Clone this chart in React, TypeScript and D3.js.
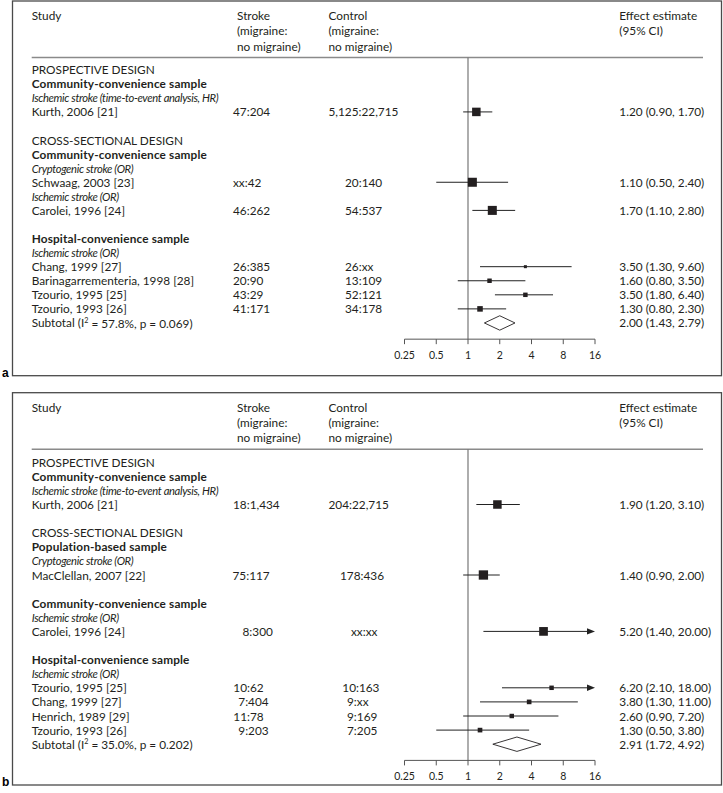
import React from "react";
import * as d3 from "d3";

// ---------- DATA ----------
// Panel a
const aLabels: [string, string][] = [
  ["design", "PROSPECTIVE DESIGN"],
  ["sample", "Community-convenience sample"],
  ["outcome", "Ischemic stroke (time-to-event analysis, HR)"],
  ["study", "Kurth, 2006 [21]"],
  ["blank", ""],
  ["design", "CROSS-SECTIONAL DESIGN"],
  ["sample", "Community-convenience sample"],
  ["outcome", "Cryptogenic stroke (OR)"],
  ["study", "Schwaag, 2003 [23]"],
  ["outcome", "Ischemic stroke (OR)"],
  ["study", "Carolei, 1996 [24]"],
  ["blank", ""],
  ["sample", "Hospital-convenience sample"],
  ["outcome", "Ischemic stroke (OR)"],
  ["study", "Chang, 1999 [27]"],
  ["study", "Barinagarrementeria, 1998 [28]"],
  ["study", "Tzourio, 1995 [25]"],
  ["study", "Tzourio, 1993 [26]"],
  ["subtotal", "Subtotal"],
];
const aStroke = ["47:204", "xx:42", "46:262", "26:385", "20:90", "43:29", "41:171"];
const aControl = ["5,125:22,715", "20:140", "54:537", "26:xx", "13:109", "52:121", "34:178"];
const aEst = [1.2, 1.1, 1.7, 3.5, 1.6, 3.5, 1.3];
const aLo = [0.9, 0.5, 1.1, 1.3, 0.8, 1.8, 0.8];
const aHi = [1.7, 2.4, 2.8, 9.6, 3.5, 6.4, 2.3];
const aWeight = [40, 45, 45, 5, 11, 11, 17];
const aSubtotal = { i2: "57.8%", p: "0.069", est: 2.0, lo: 1.43, hi: 2.79 };

// Panel b
const bLabels: [string, string][] = [
  ["design", "PROSPECTIVE DESIGN"],
  ["sample", "Community-convenience sample"],
  ["outcome", "Ischemic stroke (time-to-event analysis, HR)"],
  ["study", "Kurth, 2006 [21]"],
  ["blank", ""],
  ["design", "CROSS-SECTIONAL DESIGN"],
  ["sample", "Population-based sample"],
  ["outcome", "Cryptogenic stroke (OR)"],
  ["study", "MacClellan, 2007 [22]"],
  ["blank", ""],
  ["sample", "Community-convenience sample"],
  ["outcome", "Ischemic stroke (OR)"],
  ["study", "Carolei, 1996 [24]"],
  ["blank", ""],
  ["sample", "Hospital-convenience sample"],
  ["outcome", "Ischemic stroke (OR)"],
  ["study", "Tzourio, 1995 [25]"],
  ["study", "Chang, 1999 [27]"],
  ["study", "Henrich, 1989 [29]"],
  ["study", "Tzourio, 1993 [26]"],
  ["subtotal", "Subtotal"],
];
const bStroke = ["18:1,434", "75:117", "8:300", "10:62", "7:404", "11:78", "9:203"];
const bControl = ["204:22,715", "178:436", "xx:xx", "10:163", "9:xx", "9:169", "7:205"];
const bEst = [1.9, 1.4, 5.2, 6.2, 3.8, 2.6, 1.3];
const bLo = [1.2, 0.9, 1.4, 2.1, 1.3, 0.9, 0.5];
const bHi = [3.1, 2.0, 20.0, 18.0, 11.0, 7.2, 3.8];
const bWeight = [40, 48, 42, 11, 12, 11, 12];
const bSubtotal = { i2: "35.0%", p: "0.202", est: 2.91, lo: 1.72, hi: 4.92 };

const ticks = [0.25, 0.5, 1, 2, 4, 8, 16];
const headerStudy = ["Study"];
const headerStroke = ["Stroke", "(migraine:", "no migraine)"];
const headerControl = ["Control", "(migraine:", "no migraine)"];
const headerEffect = ["Effect estimate", "(95% CI)"];

// ---------- LAYOUT ----------
const W = 723;
const H = 793;
const FONT = "Lato, 'Open Sans', sans-serif";
const FS = 11.8;
const TXT = "#231f20";
const boxLeft = 12.5;
const boxRight = 721.5;
const colStudy = 31.7;
const colStrokeHead = 237;
const colControlHead = 328.5;
const colEffect = 619.3;
const sepRight = 703;

const aStrokeX = [233, 233, 233, 233, 233, 233, 233];
const aControlX = [328.5, 345, 345, 345, 345, 345, 345];
const bStrokeX = [233, 232.5, 242.5, 233.3, 238.3, 233.3, 238.3];
const bControlX = [328.5, 340, 351, 342.3, 347, 347, 347];

const x = d3.scaleLog().base(2).domain([0.25, 16]).range([404.5, 595]);
const sizeScale = d3.scaleSqrt().domain([0, 50]).range([0, 9.5]);

const fmt = (v: number) => v.toFixed(2);

type PanelProps = {
  top: number;
  bottom: number;
  letter: string;
  labels: [string, string][];
  stroke: string[];
  control: string[];
  est: number[];
  lo: number[];
  hi: number[];
  weight: number[];
  subtotal: { i2: string; p: string; est: number; lo: number; hi: number };
  strokeX: number[];
  controlX: number[];
  y0off: number;
  pitch: number;
};

function Panel(props: PanelProps) {
  const { top, bottom, letter, labels, stroke, control, est, lo, hi, weight, subtotal, strokeX, controlX, y0off, pitch } = props;
  const y0 = top + y0off;
  const rowY = (i: number) => y0 + i * pitch;
  const headY = [top + 14.5, top + 29.8, top + 45];
  const sepY = top + 56.5;
  const subIdx = labels.findIndex((l) => l[0] === "subtotal");
  const subY = rowY(subIdx);
  const axisY = subY + 16.2;
  const studyRows = labels.map((l, i) => (l[0] === "study" ? i : -1)).filter((i) => i >= 0);
  const xMax = x.domain()[1];
  const els: React.ReactNode[] = [];

  const headText = (arr: string[], xx: number, key: string) =>
    arr.map((t, i) => (
      <text key={key + i} x={xx} y={headY[i]} dominantBaseline="central">
        {t}
      </text>
    ));

  labels.forEach((l, i) => {
    const [type, t] = l;
    if (type === "blank") return;
    if (type === "subtotal") {
      els.push(
        <text key={"lab" + i} x={colStudy} y={rowY(i)} dominantBaseline="central">
          {"Subtotal (I"}
          <tspan fontSize={7.2} dy={-2.8}>2</tspan>
          <tspan dy={2.8}>{" = " + subtotal.i2 + ", p = " + subtotal.p + ")"}</tspan>
        </text>
      );
      return;
    }
    const isSample = type === "sample";
    const isOutcome = type === "outcome";
    els.push(
      <text
        key={"lab" + i}
        x={colStudy}
        y={rowY(i)}
        dominantBaseline="central"
        fontWeight={isSample ? 700 : 400}
        fontStyle={isOutcome ? "italic" : "normal"}
        fontSize={isOutcome ? 11.2 : FS}
        letterSpacing={isOutcome ? -0.35 : isSample ? 0.15 : 0}
      >
        {t}
      </text>
    );
  });

  studyRows.forEach((r, k) => {
    const y = rowY(r);
    els.push(
      <text key={"s" + k} x={strokeX[k]} y={y} dominantBaseline="central">{stroke[k]}</text>,
      <text key={"c" + k} x={controlX[k]} y={y} dominantBaseline="central">{control[k]}</text>,
      <text key={"e" + k} x={colEffect} y={y} dominantBaseline="central">
        {`${fmt(est[k])} (${fmt(lo[k])}, ${fmt(hi[k])})`}
      </text>
    );
    const over = hi[k] > xMax;
    const x1 = x(lo[k]);
    const x2 = over ? x(xMax) - 6 : x(hi[k]);
    els.push(<line key={"ci" + k} x1={x1} x2={x2} y1={y} y2={y} stroke="#222" strokeWidth={1} />);
    if (over) {
      const tip = x(xMax);
      els.push(
        <path key={"ar" + k} d={`M${tip},${y} L${tip - 8},${y - 3.2} L${tip - 8},${y + 3.2} Z`} fill="#222" />
      );
    }
    const s = sizeScale(weight[k]);
    els.push(<rect key={"sq" + k} x={x(est[k]) - s / 2} y={y - s / 2} width={s} height={s} fill="#231f20" />);
  });

  const dh = 7.2;
  els.push(
    <path
      key="diamond"
      d={`M${x(subtotal.lo)},${subY} L${x(subtotal.est)},${subY - dh} L${x(subtotal.hi)},${subY} L${x(subtotal.est)},${subY + dh} Z`}
      fill="#fff"
      stroke="#231f20"
      strokeWidth={0.9}
    />,
    <text key="subE" x={colEffect} y={subY} dominantBaseline="central">
      {`${fmt(subtotal.est)} (${fmt(subtotal.lo)}, ${fmt(subtotal.hi)})`}
    </text>
  );

  return (
    <g>
      <rect x={boxLeft} y={top} width={boxRight - boxLeft} height={bottom - top} fill="none" stroke="#4a4a4a" strokeWidth={1.3} />
      <text x={2} y={bottom + 1} fontWeight={700} fontSize={12} fontFamily="Arial, 'Liberation Sans', sans-serif">{letter}</text>
      <g fontFamily={FONT} fontSize={FS} fill={TXT}>
        {headText(headerStudy, colStudy, "hs")}
        {headText(headerStroke, colStrokeHead, "hst")}
        {headText(headerControl, colControlHead, "hc")}
        {headText(headerEffect, colEffect, "he")}
        <line x1={colStudy} x2={sepRight} y1={sepY} y2={sepY} stroke="#8a8a8a" strokeWidth={1.5} />
        <line x1={x(1)} x2={x(1)} y1={sepY} y2={axisY} stroke="#777" strokeWidth={1.2} />
        {els}
        <line x1={x(ticks[0])} x2={x(ticks[ticks.length - 1])} y1={axisY} y2={axisY} stroke="#555" strokeWidth={1} />
        {ticks.map((t) => (
          <g key={"t" + t}>
            <line x1={x(t)} x2={x(t)} y1={axisY} y2={axisY + 5} stroke="#555" strokeWidth={1} />
            <text x={x(t)} y={axisY + 16} textAnchor="middle" dominantBaseline="central" fontSize={10.5}>
              {String(t)}
            </text>
          </g>
        ))}
      </g>
    </g>
  );
}

export default function App() {
  return (
    <svg width={W} height={H} style={{ position: "absolute", left: 0, top: 0, background: "#fff" }}>
      <rect x={0} y={0} width={W} height={H} fill="#fff" />
      <Panel
        top={1}
        bottom={375.7}
        letter="a"
        labels={aLabels}
        stroke={aStroke}
        control={aControl}
        est={aEst}
        lo={aLo}
        hi={aHi}
        weight={aWeight}
        subtotal={aSubtotal}
        strokeX={aStrokeX}
        controlX={aControlX}
        y0off={68.7}
        pitch={14.07}
      />
      <Panel
        top={392.7}
        bottom={785}
        letter="b"
        labels={bLabels}
        stroke={bStroke}
        control={bControl}
        est={bEst}
        lo={bLo}
        hi={bHi}
        weight={bWeight}
        subtotal={bSubtotal}
        strokeX={bStrokeX}
        controlX={bControlX}
        y0off={69.5}
        pitch={14.1}
      />
    </svg>
  );
}
